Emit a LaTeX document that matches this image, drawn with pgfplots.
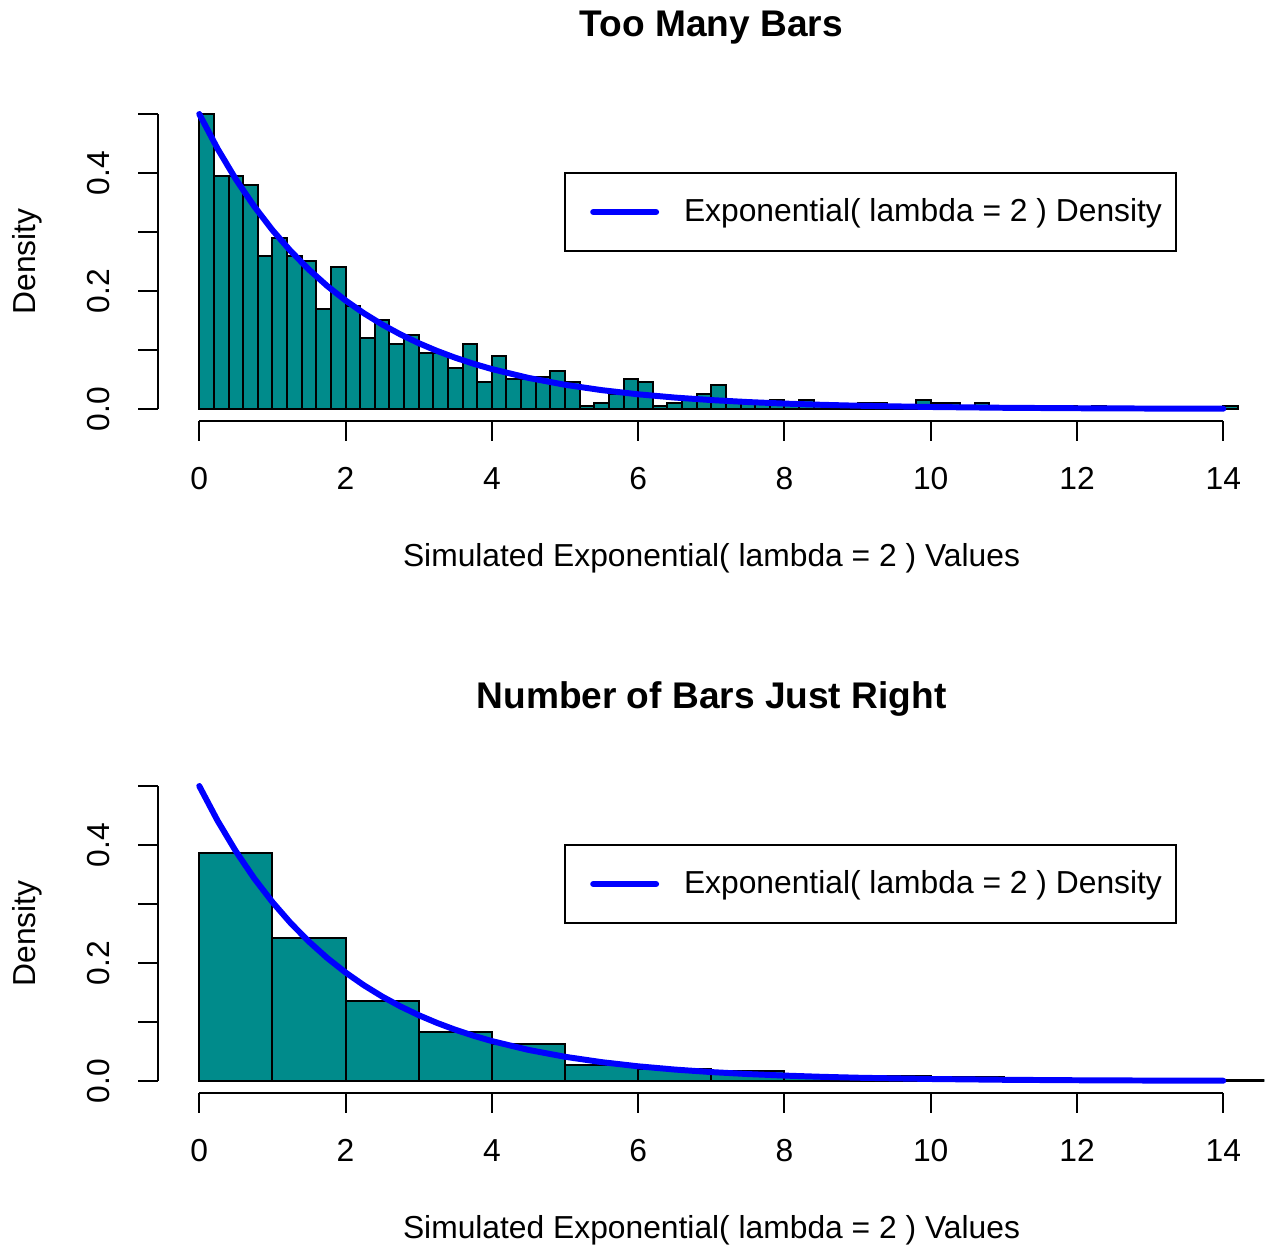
\documentclass[border=0pt]{standalone}
\usepackage{fontspec}
\setmainfont{Liberation Sans}
\usepackage{pgfplots}
\pgfplotsset{compat=1.18}
\definecolor{histfill}{HTML}{008B8B}

% R base-graphics look: open axes, outward ticks, rotated y labels
\pgfplotsset{
  rhist/.style={
    scale only axis,
    width=417.5pt, height=120.27pt,
    xmin=-0.56, xmax=14.56, ymin=-0.02, ymax=0.52,
    axis x line*=bottom, axis y line*=left,
    axis line style={draw=none,-},
    tick align=outside, major tick length=7.55pt,
    tick style={black, line width=0.75pt},
    xtick={0,2,...,14}, xticklabels={0,2,4,6,8,10,12,14},
    ytick={0,0.1,0.2,0.3,0.4,0.5}, yticklabels={0.0,,0.2,,0.4,},
    tick label style={font=\fontsize{12}{14.4}\selectfont},
    xticklabel style={anchor=base, yshift=-18.5pt},
    yticklabel style={xshift=-10.7pt, rotate=90, anchor=base},
    legend style={at={(0.9211,0.7810)}, anchor=north east, draw=black,
      line width=0.75pt, inner xsep=5.3pt, inner ysep=9.65pt,
      column sep=9.4pt, nodes={inner sep=0pt},
      font=\fontsize{12}{14.4}\selectfont},
    legend image code/.code={
      \path[draw=none] (-2.64pt,0pt) -- (2.64pt,0pt);
      \draw[##1] (2.64pt,0pt) -- (26.4pt,0pt);},
    after end axis/.code={
      \draw[black, line width=0.75pt] (axis cs:0,-0.02) -- (axis cs:14,-0.02);
      \draw[black, line width=0.75pt] (axis cs:-0.56,0) -- (axis cs:-0.56,0.5);
    },
  },
  dens/.style={blue, line width=2.25pt, line cap=round, line join=round},
}

\pgfplotstableread{
x y
0 0.5
0.25 0.44125
0.5 0.38940
0.75 0.34365
1 0.30327
1.25 0.26763
1.5 0.23618
1.75 0.20843
2 0.18394
2.25 0.16232
2.5 0.14325
2.75 0.12642
3 0.11157
3.25 0.09846
3.5 0.08689
3.75 0.07668
4 0.06767
4.5 0.05270
5 0.04104
5.5 0.03196
6 0.02489
6.5 0.01939
7 0.01510
7.5 0.01176
8 0.00916
8.5 0.00713
9 0.00555
10 0.00337
11 0.00204
12 0.00124
13 0.00075
14 0.00046
}\densitytable

\pgfplotstableread{
x y
0 0.5
0.2 0.395
0.4 0.395
0.6 0.38
0.8 0.26
1.0 0.29
1.2 0.26
1.4 0.25
1.6 0.17
1.8 0.24
2.0 0.175
2.2 0.12
2.4 0.15
2.6 0.11
2.8 0.125
3.0 0.095
3.2 0.095
3.4 0.07
3.6 0.11
3.8 0.045
4.0 0.09
4.2 0.05
4.4 0.05
4.6 0.055
4.8 0.065
5.0 0.045
5.2 0.005
5.4 0.01
5.6 0.025
5.8 0.05
6.0 0.045
6.2 0.005
6.4 0.01
6.6 0.015
6.8 0.025
7.0 0.04
7.2 0.01
7.4 0.01
7.6 0.01
7.8 0.015
8.0 0.01
8.2 0.015
8.4 0.005
8.6 0.005
8.8 0.005
9.0 0.01
9.2 0.01
9.4 0.005
9.6 0.005
9.8 0.015
10.0 0.01
10.2 0.01
10.4 0
10.6 0.01
10.8 0
11.0 0
11.2 0
11.4 0.005
11.6 0.005
11.8 0.005
12.0 0
12.2 0.005
12.4 0
12.6 0
12.8 0
13.0 0
13.2 0
13.4 0
13.6 0
13.8 0
14.0 0.005
14.2 0
}\finebins

\pgfplotstableread{
x y
0 0.386
1 0.242
2 0.136
3 0.083
4 0.062
5 0.027
6 0.020
7 0.017
8 0.009
9 0.009
10 0.007
11 0.003
12 0.001
13 0
14 0.001
15 0
}\coarsebins

\begin{document}
\begin{tikzpicture}
\begin{scope}[x=0.3775pt, y=0.3775pt]
\path[use as bounding box] (0,0) rectangle (1271,1245);
\node[anchor=base, font=\fontsize{14}{16.8}\selectfont\bfseries] at (711.5,1208) {Too Many Bars};
\node[anchor=base, font=\fontsize{12}{14.4}\selectfont] at (711.5,678) {Simulated Exponential( lambda = 2 ) Values};
\node[anchor=base, rotate=90, font=\fontsize{12}{14.4}\selectfont] at (35.5,983.5) {Density};
\node[anchor=base, font=\fontsize{14}{16.8}\selectfont\bfseries] at (711.5,536) {Number of Bars Just Right};
\node[anchor=base, font=\fontsize{12}{14.4}\selectfont] at (711.5,6) {Simulated Exponential( lambda = 2 ) Values};
\node[anchor=base, rotate=90, font=\fontsize{12}{14.4}\selectfont] at (35.5,311.5) {Density};
\end{scope}

% top panel
\begin{axis}[rhist, at={(59.758pt,311.136pt)}, anchor=south west]
  \addplot[ybar interval, fill=histfill, draw=black, line width=0.75pt, forget plot] table {\finebins};
  \addplot[dens] table {\densitytable};
  \addlegendentry{Exponential( lambda = 2 ) Density}
\end{axis}

% bottom panel
\begin{axis}[rhist, at={(59.758pt,57.456pt)}, anchor=south west]
  \addplot[ybar interval, fill=histfill, draw=black, line width=0.75pt, forget plot] table {\coarsebins};
  \addplot[dens] table {\densitytable};
  \addlegendentry{Exponential( lambda = 2 ) Density}
\end{axis}
\end{tikzpicture}
\end{document}
